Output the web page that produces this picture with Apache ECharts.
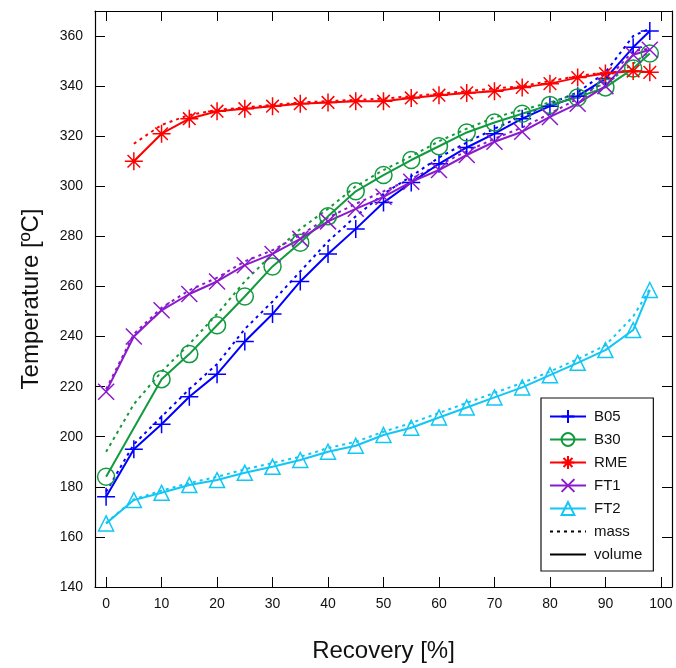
<!DOCTYPE html>
<html>
<head>
<meta charset="utf-8">
<script src="https://cdn.jsdelivr.net/npm/echarts@6/dist/echarts.min.js"></script>
<style>
html,body{margin:0;padding:0;background:#fff;}
#chart{width:676px;height:668px;}
</style>
</head>
<body>
<div id="chart"></div>
<script>
// recovery points [%]
var rec = [0,5,10,15,20,25,30,35,40,45,50,55,60,65,70,75,80,85,90,95,98];
var recNo5 = [0,10,15,20,25,30,35,40,45,50,55,60,65,70,75,80,85,90,95,98];
var recFrom5 = [5,10,15,20,25,30,35,40,45,50,55,60,65,70,75,80,85,90,95,98];

// temperatures [ºC]
var b05Vol = [176,195,205,216,225,238,249,262,273,283,293.5,301.5,309,315.5,321,327,332,336,343,355.5,362];
var b05Mass = [178,197,208,219,229,243,254,266,278,288,297,304,311.5,317.5,323,328,333,337.5,345.5,360,363];
var b30Vol = [184,223,233,244.5,256,268,277.5,288,298,304.5,310.5,316,321.5,325.5,329,332.5,335.5,339.5,347,353];
var b30Mass = [194,213,226,237,249,262,273,283,291,300,306.5,312,318,323,327.5,330.5,333.5,337,341,349,354];
var rmeVol = [310,321,327,330,331,332,333,333.5,334,334,335.3,336.4,337.3,338,339.5,341,343.4,345,346,345.5];
var rmeMass = [317,324.5,328.5,330.5,331.5,332.5,333.5,334,334.5,335,336,337,338,339,340,342,344,345.5,346,345.5];
var ft1Vol = [218,240,250.5,257,262,268.5,273,279,286,291,295.8,301.8,306.5,312.5,317.8,321.8,327.7,333,340,352.5,354.5];
var ft1Mass = [219,241,251.5,258.5,263.5,270,274.5,280.5,287.5,293,298,303,308.5,314,319,323.5,329,335,342,354,355];
var ft2Vol = [165.4,174.7,177.6,180.7,182.7,185.6,188,190.7,194,196.4,200.7,203.6,207.7,211.7,215.7,219.7,224.6,229.5,234.6,242.6,258.6];
var ft2Mass = [165.5,175,178.5,181.5,184,187,189.5,192,195.5,198,202,205.5,209.5,213.5,217.5,221.5,226,231,236.5,248,259];

var xTicks = [0,10,20,30,40,50,60,70,80,90,100];
var yTicks = [140,160,180,200,220,240,260,280,300,320,340,360];
var legendNames = ['B05','B30','RME','FT1','FT2','mass','volume'];

var symPlus = 'path://M10,0L10,20M0,10L20,10';
var symStar = 'path://M10,0L10,20M0,10L20,10M3,3L17,17M17,3L3,17';
var symCross = 'path://M0,0L20,20M20,0L0,20';
var symCircle = 'path://M20,10A10,10,0,1,1,0,10A10,10,0,1,1,20,10Z';
var symTri = 'path://M10,0L20,17.3L0,17.3Z';

function pairs(xs, ys) {
	var out = [];
	for (var i = 0; i < ys.length; i++) {
		out.push([xs[i], ys[i]]);
	}
	return out;
}

function volSeries(name, xs, ys, color, sym, size) {
	return {
		name: name,
		type: 'line',
		data: pairs(xs, ys),
		symbol: sym,
		symbolSize: size,
		showAllSymbol: true,
		lineStyle: { color: color, width: 2 },
		itemStyle: { color: 'rgba(0,0,0,0)', borderColor: color, borderWidth: 1.5 },
		emphasis: { disabled: true },
		z: 3
	};
}

function massSeries(name, xs, ys, color) {
	return {
		name: name,
		type: 'line',
		data: pairs(xs, ys),
		symbol: 'none',
		lineStyle: { color: color, width: 2, type: [3, 4] },
		emphasis: { disabled: true },
		z: 2
	};
}

var seriesArr = [
	massSeries('B05 m', rec, b05Mass, '#0000ff'),
	massSeries('B30 m', rec, b30Mass, '#129a3e'),
	massSeries('RME m', recFrom5, rmeMass, '#ff0000'),
	massSeries('FT1 m', rec, ft1Mass, '#8a1acb'),
	massSeries('FT2 m', rec, ft2Mass, '#12c6f5'),
	volSeries('B05', rec, b05Vol, '#0000ff', symPlus, 18),
	volSeries('B30', recNo5, b30Vol, '#129a3e', symCircle, 17),
	volSeries('RME', recFrom5, rmeVol, '#ff0000', symStar, 18),
	volSeries('FT1', rec, ft1Vol, '#8a1acb', symCross, 16),
	volSeries('FT2', rec, ft2Vol, '#12c6f5', symTri, 15),
	{
		name: 'mass', type: 'line', data: [], symbol: 'circle',
		itemStyle: { color: 'rgba(0,0,0,0)' },
		lineStyle: { color: '#000', width: 2, type: [3, 4] }
	},
	{
		name: 'volume', type: 'line', data: [], symbol: 'circle',
		itemStyle: { color: 'rgba(0,0,0,0)' },
		lineStyle: { color: '#000', width: 2 }
	}
];

var tickStyle = { show: true, inside: true, length: 10, lineStyle: { color: '#000', width: 1 } };

var Chart1 = echarts.init(document.getElementById('chart'));
Chart1.setOption({
	animation: false,
	backgroundColor: '#fff',
	textStyle: { fontFamily: 'Liberation Sans, Arial, sans-serif' },
	grid: { left: 95, right: 4, top: 11, bottom: 81 },
	legend: {
		data: legendNames,
		orient: 'vertical',
		left: 541,
		top: 398,
		padding: [11, 11, 9, 8],
		itemWidth: 36,
		itemHeight: 16,
		itemGap: 8,
		backgroundColor: '#fff',
		borderColor: '#111',
		borderWidth: 1.2,
		borderRadius: 0,
		selectedMode: false,
		textStyle: { fontSize: 15, color: '#111', padding: [0, 0, 0, 3] }
	},
	xAxis: [{
		type: 'value',
		min: -2,
		max: 102,
		position: 'bottom',
		name: 'Recovery [%]',
		nameLocation: 'middle',
		nameGap: 52,
		nameTextStyle: { fontSize: 24, color: '#111' },
		axisLine: { show: true, onZero: false, lineStyle: { color: '#000', width: 1.2 } },
		axisTick: Object.assign({ customValues: xTicks }, tickStyle),
		axisLabel: { customValues: xTicks, fontSize: 14, color: '#111', margin: 10 },
		splitLine: { show: false }
	}, {
		type: 'value',
		min: -2,
		max: 102,
		position: 'top',
		axisLine: { show: true, onZero: false, lineStyle: { color: '#000', width: 1.2 } },
		axisTick: Object.assign({ customValues: xTicks }, tickStyle),
		axisLabel: { show: false },
		splitLine: { show: false }
	}],
	yAxis: [{
		type: 'value',
		min: 140,
		max: 370,
		position: 'left',
		name: 'Temperature [ºC]',
		nameLocation: 'middle',
		nameGap: 52,
		nameTextStyle: { fontSize: 24, color: '#111' },
		axisLine: { show: true, onZero: false, lineStyle: { color: '#000', width: 1.2 } },
		axisTick: Object.assign({ customValues: yTicks }, tickStyle),
		axisLabel: { customValues: yTicks, fontSize: 14, color: '#111', margin: 12 },
		splitLine: { show: false }
	}, {
		type: 'value',
		min: 140,
		max: 370,
		position: 'right',
		axisLine: { show: true, onZero: false, lineStyle: { color: '#000', width: 1.2 } },
		axisTick: Object.assign({ customValues: yTicks }, tickStyle),
		axisLabel: { show: false },
		splitLine: { show: false }
	}],
	series: seriesArr
});
</script>
</body>
</html>
